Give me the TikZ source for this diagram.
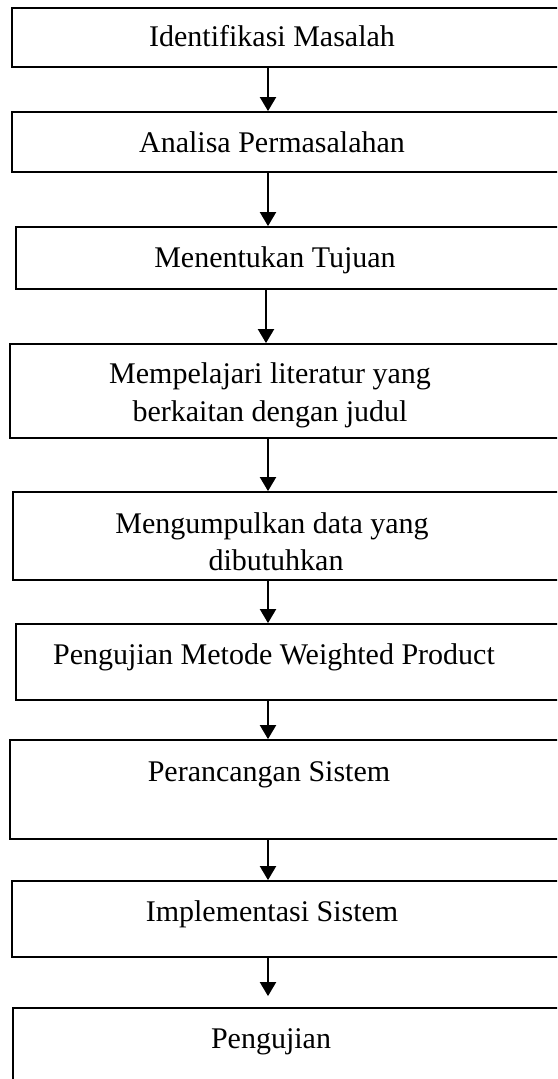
\documentclass[tikz,border=0pt]{standalone}
\usepackage{fontspec}
\setmainfont{Liberation Serif}
\usetikzlibrary{arrows.meta}
\begin{document}
\begin{tikzpicture}[x=0.5pt,y=-0.5pt,
  boxs/.style={draw=black,line width=0.9pt,rectangle,inner sep=0pt,fill=none},
  txt/.style={inner sep=0pt,anchor=base,font=\fontsize{15pt}{18pt}\selectfont},
  arr/.style={line width=1pt,-{Triangle[width=8pt,length=7pt]}}]
\useasboundingbox (0,0) rectangle (557,1079);
\clip (0,0) rectangle (557,1079);
\coordinate (ax) at (268,0);
% boxes
\node[boxs,minimum width=279pt,minimum height=29.5pt] (b1) at (291,37.5) {};
\node[boxs,minimum width=279pt,minimum height=30pt] (b2) at (291,142) {};
\node[boxs,minimum width=277pt,minimum height=31pt] (b3) at (293,258) {};
\node[boxs,minimum width=280pt,minimum height=47pt] (b4) at (290,391) {};
\node[boxs,minimum width=278.5pt,minimum height=44pt] (b5) at (291.5,536) {};
\node[boxs,minimum width=277pt,minimum height=38pt] (b6) at (293,662) {};
\node[boxs,minimum width=280pt,minimum height=49.5pt] (b7) at (290,789.5) {};
\node[boxs,minimum width=279pt,minimum height=38pt] (b8) at (291,919) {};
\node[boxs,minimum width=278.5pt,minimum height=46pt] (b9) at (291.5,1054) {};
% texts
\node[txt] (t1) at (272,47) {Identifikasi Masalah};
\node[txt] (t2) at (272,153) {Analisa Permasalahan};
\node[txt] (t3) at (275,268) {Menentukan Tujuan};
\node[txt] (t4a) at (270,384) {Mempelajari literatur yang};
\node[txt] (t4b) at (270,421) {berkaitan dengan judul};
\node[txt] (t5a) at (272,533) {Mengumpulkan data yang};
\node[txt] (t5b) at (276,570) {dibutuhkan};
\node[txt] (t6) at (274,664) {Pengujian Metode Weighted Product};
\node[txt] (t7) at (269,781) {Perancangan Sistem};
\node[txt] (t8) at (272,921) {Implementasi Sistem};
\node[txt] (t9) at (271,1048) {Pengujian};
% arrows
\draw[arr] (b1.south -| ax) -- (b2.north -| ax);
\draw[arr] (b2.south -| ax) -- (b3.north -| ax);
\draw[arr] ([xshift=-1pt]b3.south -| ax) -- ([xshift=-1pt]b4.north -| ax);
\draw[arr] (b4.south -| ax) -- (b5.north -| ax);
\draw[arr] (b5.south -| ax) -- (b6.north -| ax);
\draw[arr] (b6.south -| ax) -- (b7.north -| ax);
\draw[arr] (b7.south -| ax) -- (b8.north -| ax);
\draw[arr] (b8.south -| ax) -- ([yshift=5.5pt]b9.north -| ax);
\end{tikzpicture}
\end{document}
